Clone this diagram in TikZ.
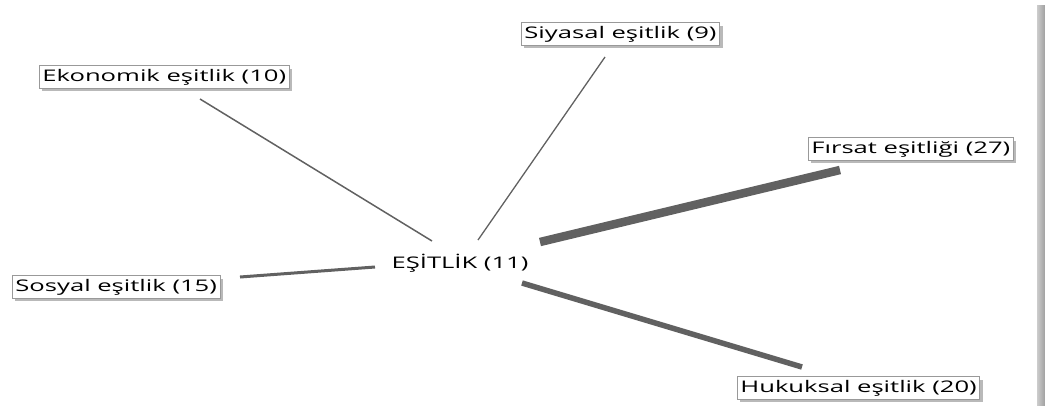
\documentclass[tikz,border=0pt]{standalone}
\usepackage{fontspec}
\setmainfont{Open Sans}
\newfontfamily\lblfont[FakeStretch=1.6]{Open Sans}
\usetikzlibrary{shadows}
\begin{document}
\begin{tikzpicture}[x=1pt,y=-1pt,
  lbl/.style={draw=gray!80, fill=white, line width=0.8pt, anchor=west,
    inner xsep=3pt, inner ysep=3.5pt, text height=12pt, text depth=3.5pt,
    font=\lblfont\fontsize{16}{19}\selectfont,
    drop shadow={shadow xshift=3pt, shadow yshift=-3pt, fill=gray!55, opacity=1}},
  hub/.style={font=\lblfont\fontsize{16}{19}\selectfont},
  link/.style={draw=black!62, line cap=butt}]
\useasboundingbox (0,0) rectangle (1045,405);
\shade[left color=gray!40, right color=gray!75] (1037,5) rectangle (1045,405);
% nodes
\node[hub] (c) at (460,263) {EŞİTLİK (11)};
\node[lbl] (eko) at (39,77) {Ekonomik eşitlik (10)};
\node[lbl] (siy) at (521,34) {Siyasal eşitlik (9)};
\node[lbl] (fir) at (808,149) {Fırsat eşitliği (27)};
\node[lbl] (sos) at (12,287) {Sosyal eşitlik (15)};
\node[lbl] (huk) at (737,388) {Hukuksal eşitlik (20)};
% connector ends
\coordinate (ekoA) at (200,99);  \coordinate (ekoB) at (432,241);
\coordinate (siyA) at (605,57);  \coordinate (siyB) at (478,240);
\coordinate (firA) at (840,170); \coordinate (firB) at (540,242);
\coordinate (sosA) at (240,277); \coordinate (sosB) at (375,267);
\coordinate (hukA) at (802,367); \coordinate (hukB) at (522,283);
\draw[link, line width=1.5pt] (ekoA) -- (ekoB);
\draw[link, line width=1.3pt] (siyA) -- (siyB);
\draw[link, line width=8.5pt] (firA) -- (firB);
\draw[link, line width=3pt] (sosA) -- (sosB);
\draw[link, line width=5.5pt] (hukA) -- (hukB);
\end{tikzpicture}
\end{document}
